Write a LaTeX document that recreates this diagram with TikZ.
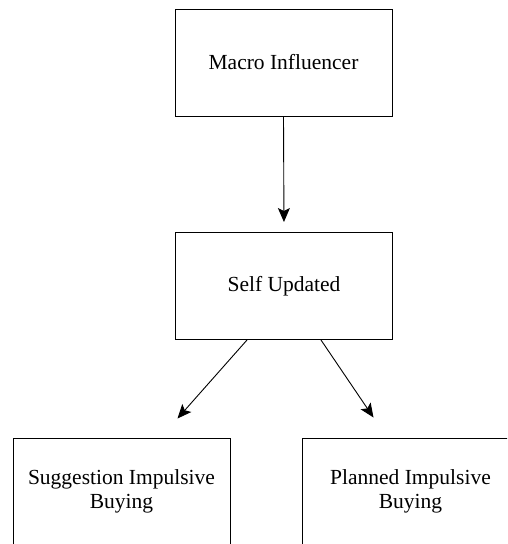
\documentclass[tikz,border=0pt]{standalone}
\usepackage{fontspec}
\setmainfont{Liberation Serif}
\usetikzlibrary{positioning,arrows.meta}

\begin{document}
\begin{tikzpicture}[
  x=1pt, y=-1pt,
  every node/.style={font=\fontsize{21.5}{23.5}\selectfont},
  box/.style={draw, line width=1pt, minimum width=217pt, minimum height=107pt, align=center, inner sep=0pt},
  arrow/.style={-{Stealth[length=14pt, width=12pt, inset=3pt]}, line width=0.9pt}
]
\useasboundingbox (0,0) rectangle (507,544);
\clip (0,0) rectangle (507,544);

% Nodes
\node[box] (macro) at (283.5,62.5) {Macro Influencer};
\node[box] (self) at (284,286) {Self Updated};
\node[box] (sugg) at (121.5,491.5) {Suggestion Impulsive\\ Buying};
\node[box] (planned) at (410.5,491.5) {Planned Impulsive\\ Buying};

% Arrows
\draw[arrow, shorten >=10pt] (macro.south) -- (self.north);
\draw[arrow] ([xshift=-37pt]self.south) -- ([xshift=56pt, yshift=19pt]sugg.north);
\draw[arrow] ([xshift=37pt]self.south) -- ([xshift=-37pt, yshift=20pt]planned.north);
\end{tikzpicture}
\end{document}
